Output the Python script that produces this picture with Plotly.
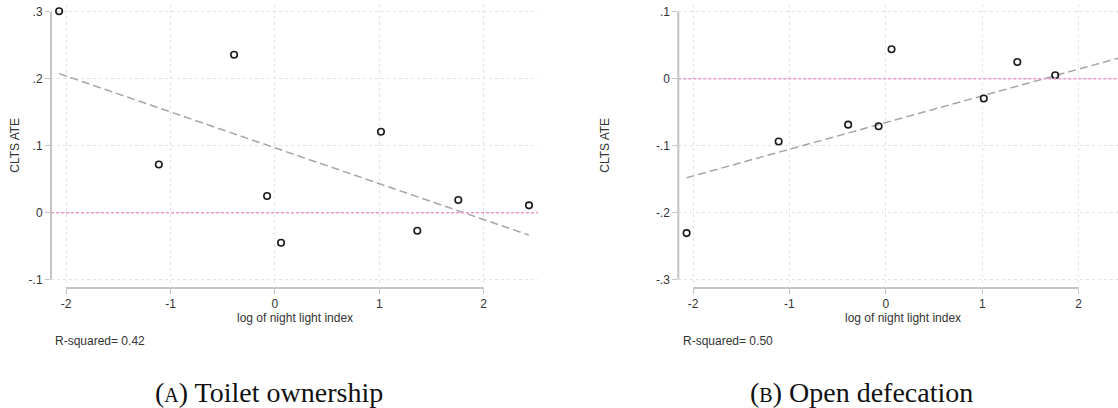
import numpy as np
import plotly.graph_objects as go

# ---------------- data ----------------
log_night_light = [-2.067, -1.112, -0.391, -0.075, 0.059, 1.016, 1.364, 1.757, 2.434]
ate_toilet = [0.301, 0.072, 0.236, 0.025, -0.045, 0.121, -0.027, 0.019, 0.011]
ate_open_def = [-0.2305, -0.0937, -0.0684, -0.0709, 0.0442, -0.0293, 0.0253, 0.0055, -0.0506]

x_tickvals = [-2, -1, 0, 1, 2]
x_ticktext = ["-2", "-1", "0", "1", "2"]
yA_tickvals = [-0.1, 0, 0.1, 0.2, 0.3]
yA_ticktext = ["-.1", "0", ".1", ".2", ".3"]
yB_tickvals = [-0.3, -0.2, -0.1, 0, 0.1]
yB_ticktext = ["-.3", "-.2", "-.1", "0", ".1"]
r2_labels = ["R-squared= 0.42", "R-squared= 0.50"]
captions = ["(<span style='font-size:20px'>A</span>) Toilet ownership",
            "(<span style='font-size:20px'>B</span>) Open defecation"]
x_title = "log of night light index"
y_title = "CLTS ATE"

# ---------------- geometry helpers ----------------
W, H = 1118, 408
def fx(px):
    return px / W
def fy(py):
    return 1 - py / H

TEXT = "#333333"
GRID = "#e3e3e3"
AXIS = "#c4c4c4"
FONT = "Liberation Sans, Arial, sans-serif"

fig = go.Figure()

def fit_line(x, y):
    b, a = np.polyfit(x, y, 1)
    xs = [min(x), max(x)]
    return xs, [a + b * v for v in xs]

for i, (yvals, xa, ya) in enumerate([(ate_toilet, "x", "y"), (ate_open_def, "x2", "y2")]):
    fxs, fys = fit_line(log_night_light, yvals)
    fig.add_trace(go.Scatter(x=fxs, y=fys, mode="lines", xaxis=xa, yaxis=ya,
                             line=dict(color="#a6a6a6", width=1.5, dash="8px,4px"),
                             showlegend=False, cliponaxis=False, hoverinfo="skip"))
    fig.add_trace(go.Scatter(x=log_night_light, y=yvals, mode="markers", xaxis=xa, yaxis=ya,
                             marker=dict(symbol="circle-open", size=6.5, color="#1a1a1a",
                                         line=dict(width=1.6, color="#1a1a1a")),
                             showlegend=False, cliponaxis=False))

axis_common = dict(showline=False, zeroline=False, showgrid=True, gridcolor=GRID,
                   griddash="dot", gridwidth=1, ticks="outside", ticklen=5,
                   tickcolor=AXIS, tickwidth=1, tickfont=dict(size=12, color=TEXT, family=FONT))

ytop, ybot = 4, 286
xaxis_y = fy(289.3)

fig.update_layout(
    width=W, height=H,
    margin=dict(l=0, r=0, t=0, b=0),
    paper_bgcolor="white", plot_bgcolor="white",
    font=dict(family=FONT, color=TEXT, size=12),
    xaxis=dict(domain=[fx(51), fx(538)], range=[(51 - 274.9) / 104.4, (538 - 274.9) / 104.4],
               anchor="free", position=xaxis_y, tickvals=x_tickvals, ticktext=x_ticktext,
               **axis_common),
    yaxis=dict(domain=[fy(ybot), fy(ytop)], range=[-(ybot - 213.75) / 672.5, (213.75 - ytop) / 672.5],
               anchor="x", tickvals=yA_tickvals, ticktext=yA_ticktext, **axis_common),
    xaxis2=dict(domain=[fx(678.3), 1.0], range=[(678.3 - 885.85) / 96.4, (W - 885.85) / 96.4],
                anchor="free", position=xaxis_y, tickvals=x_tickvals, ticktext=x_ticktext,
                **axis_common),
    yaxis2=dict(domain=[fy(ybot), fy(ytop)], range=[-(ybot - 79.25) / 672.5, (79.25 - ytop) / 672.5],
                anchor="x2", tickvals=yB_tickvals, ticktext=yB_ticktext, **axis_common),
)

shapes = []
for xa, ya, yt in [("x", "y", yA_tickvals), ("x2", "y2", yB_tickvals)]:
    # zero reference line
    shapes.append(dict(type="line", xref=f"{xa} domain", x0=0, x1=1, yref=ya, y0=0, y1=0,
                       line=dict(color="#f09acb", width=1.5, dash="3px,2px"), layer="above"))
    # y axis line (spans the tick range only)
    shapes.append(dict(type="line", xref=f"{xa} domain", x0=0, x1=0, yref=ya,
                       y0=min(yt), y1=max(yt), line=dict(color=AXIS, width=2), layer="above"))
    # x axis line (spans the tick range only)
    shapes.append(dict(type="line", xref=xa, x0=min(x_tickvals), x1=max(x_tickvals), yref="paper",
                       y0=xaxis_y, y1=xaxis_y, line=dict(color=AXIS, width=2), layer="above"))
fig.update_layout(shapes=shapes)

ann = []
for cx_title, cx_y, left_r2, cap_x, r2, cap in [
        (294.5, 15, 53, 269, r2_labels[0], captions[0]),
        (903, 605, 681, 861, r2_labels[1], captions[1])]:
    ann.append(dict(text=x_title, x=fx(cx_title), y=fy(320), xref="paper", yref="paper",
                    showarrow=False, xanchor="center", yanchor="middle",
                    font=dict(size=12, color=TEXT, family=FONT)))
    ann.append(dict(text=y_title, x=fx(cx_y), y=fy(146.5), xref="paper", yref="paper",
                    showarrow=False, xanchor="center", yanchor="middle", textangle=-90,
                    font=dict(size=12, color=TEXT, family=FONT)))
    ann.append(dict(text=r2, x=fx(left_r2), y=fy(343), xref="paper", yref="paper",
                    showarrow=False, xanchor="left", yanchor="middle",
                    font=dict(size=12, color=TEXT, family=FONT)))
    ann.append(dict(text=cap, x=fx(cap_x), y=fy(394), xref="paper", yref="paper",
                    showarrow=False, xanchor="center", yanchor="middle",
                    font=dict(size=28, color="#111111", family="Liberation Serif, Times New Roman, serif")))
fig.update_layout(annotations=ann)

fig.write_html("out.html")
